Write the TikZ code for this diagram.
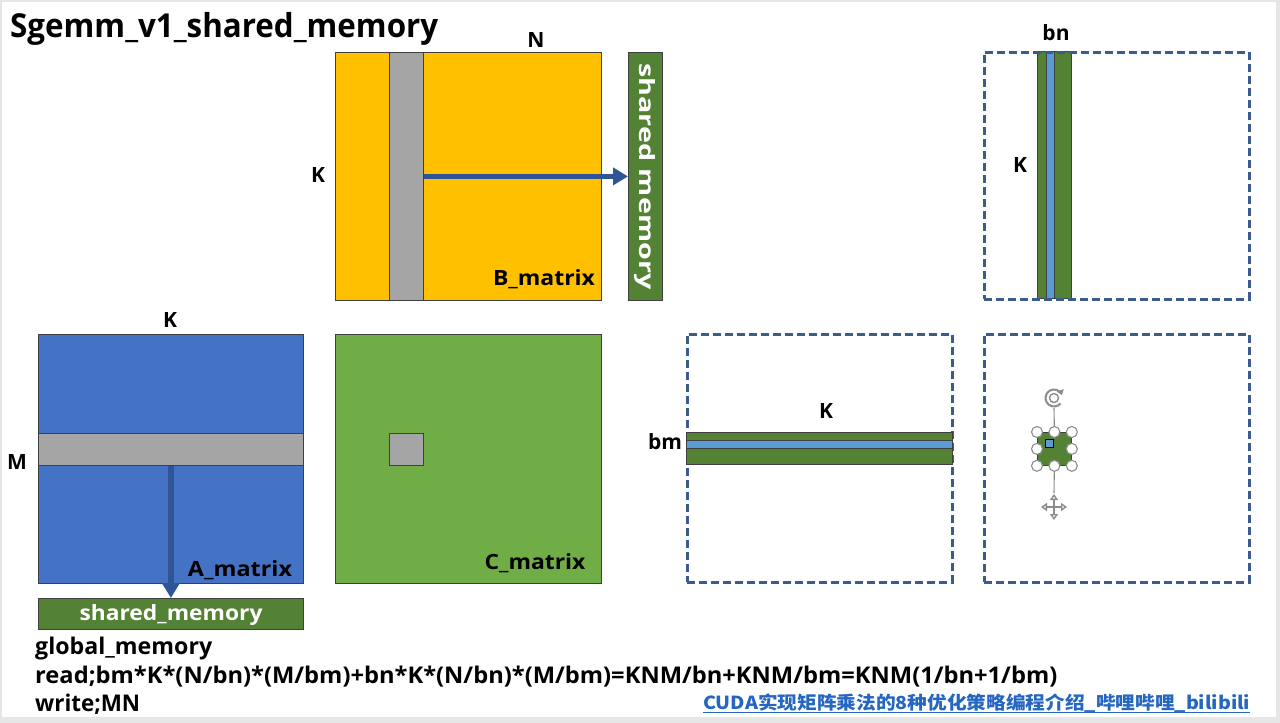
\documentclass[tikz,border=0pt]{standalone}
\usepackage{fontspec}
\usepackage{graphicx}
\setmainfont{Open Sans}
\newfontfamily\cjk{Noto Sans CJK SC}
\usetikzlibrary{arrows.meta}
\definecolor{gold}{HTML}{FFC000}
\definecolor{midgray}{HTML}{A5A5A5}
\definecolor{ablue}{HTML}{4472C4}
\definecolor{cgreen}{HTML}{70AD47}
\definecolor{dgreen}{HTML}{548235}
\definecolor{lblue}{HTML}{5B9BD5}
\definecolor{dashblue}{HTML}{3B5A8E}
\definecolor{arrblue}{HTML}{2F5597}
\definecolor{edge}{HTML}{404040}
\definecolor{framegray}{HTML}{E6E6E6}
\definecolor{linkblue}{HTML}{2466C2}
\definecolor{hgray}{HTML}{8C8C8C}
\tikzset{
  box/.style={draw=edge, line width=0.8, inner sep=0, anchor=north west},
  dbox/.style={draw=dashblue, line width=2.6, dash pattern=on 8 off 4, inner sep=0, anchor=north west},
  lbl/.style={font=\bfseries\fontsize{21}{24}\selectfont, inner sep=0},
  wlbl/.style={font=\bfseries\fontsize{21}{24}\selectfont, text=white, inner sep=0},
  txt/.style={font=\bfseries\fontsize{23}{26}\selectfont, inner sep=0, anchor=base west},
  arrowline/.style={draw=arrblue, line width=4.5, -{Triangle[length=15,width=17]}},
  handle/.style={circle, draw=hgray, fill=white, line width=1.1, minimum size=11, inner sep=0},
  hline/.style={draw=hgray, line width=1.1}
}
\begin{document}
\begin{tikzpicture}[x=1pt,y=-1pt]
\useasboundingbox (0,0) rectangle (1280,723);
\fill[framegray] (0,0) rectangle (1280,723);
\fill[white] (2,2) rectangle (1276,717);

% title
\node[font=\bfseries\fontsize{33}{36}\selectfont, inner sep=0, anchor=base west] (title) at (10,37) {\resizebox{428pt}{\height}{Sgemm\_v1\_shared\_memory}};

% B matrix
\node[box, fill=gold, minimum width=266, minimum height=248] (B) at (335,52) {};
\node[box, fill=midgray, minimum width=34, minimum height=248] (Bcol) at (389,52) {};
\node[box, fill=dgreen, minimum width=34, minimum height=248] (SMB) at (628,52) {};
\node[wlbl, rotate=-90] (SMBt) at (SMB.center) {\resizebox{226pt}{\height}{shared memory}};
\draw[arrowline] (Bcol.east) -- (SMB.west);
\node[lbl] (Nl) at (536,40) {N};
\node[lbl] (KBl) at (318,175) {K};
\node[lbl, anchor=base] (Bname) at (544,285) {\resizebox{102pt}{\height}{B\_matrix}};

% A matrix
\node[box, fill=ablue, minimum width=265, minimum height=249] (A) at (38,334) {};
\node[box, fill=midgray, minimum width=265, minimum height=32] (Arow) at (38,433) {};
\node[box, fill=dgreen, minimum width=265, minimum height=31] (SMA) at (38,598) {};
\draw[arrowline, line width=5.5] (Arow.south) -- (SMA.north);
\node[lbl] (KAl) at (170,320) {K};
\node[lbl] (Ml) at (17,462) {M};
\node[lbl, anchor=base] (Aname) at (240,576) {\resizebox{104pt}{\height}{A\_matrix}};
\node[wlbl, anchor=base] (SMAt) at (171,620) {\resizebox{183pt}{\height}{shared\_memory}};

% C matrix
\node[box, fill=cgreen, minimum width=266, minimum height=249] (C) at (335,334) {};
\node[box, fill=midgray, minimum width=34, minimum height=32] (Csq) at (389,433) {};
\node[lbl, anchor=base] (Cname) at (535,569) {\resizebox{101pt}{\height}{C\_matrix}};

% top-right dashed box (B tile)
\node[box, fill=dgreen, minimum width=34, minimum height=247] (Dcol) at (1037,51) {};
\node[box, fill=lblue, minimum width=8, minimum height=247] (Dcolb) at (1046,51) {};
\node[dbox, minimum width=265, minimum height=247] (D1) at (983,51) {};
\node[lbl] (bnl) at (1056,33) {bn};
\node[lbl] (KDl) at (1020,165) {K};

% middle dashed box (A tile)
\node[dbox, minimum width=265, minimum height=248] (D2) at (686,333) {};
\node[box, fill=dgreen, minimum width=266, minimum height=32] (Drow) at (686,432) {};
\node[box, fill=lblue, minimum width=266, minimum height=8] (Drowb) at (686,440) {};
\node[lbl] (KMl) at (826,411) {K};
\node[lbl] (bml) at (665,442) {bm};

% bottom-right dashed box (C tile with selection)
\node[dbox, minimum width=265, minimum height=248] (D3) at (983,333) {};
\node[box, fill=dgreen, minimum width=34, minimum height=33] (Dsel) at (1037,432) {};
\node[draw=black, line width=0.8, fill=lblue, minimum size=8, inner sep=0] (Dselb) at (1049,443) {};
\coordinate (rot) at (1054,398);
\coordinate (mv) at (1054,507);
\draw[hline] (Dsel.north) -- (1054,408);
\draw[hline] (Dsel.south) -- (1054,493);
\draw[hgray, line width=2, -{Triangle[length=5,width=7]}] ([shift={(40:8.5)}]rot) arc[start angle=40, end angle=340, radius=8.5];
\draw[hgray, line width=1.4] (rot) circle[radius=4.5];
\foreach \a in {0,90,180,270}
  \draw[hgray, line width=1.4, -{Triangle[open,length=6,width=8]}] (mv) -- ++(\a:13);
\node[handle] (h1) at (Dsel.north west) {};
\node[handle] (h2) at (Dsel.north) {};
\node[handle] (h3) at (Dsel.north east) {};
\node[handle] (h4) at (Dsel.west) {};
\node[handle] (h5) at (Dsel.east) {};
\node[handle] (h6) at (Dsel.south west) {};
\node[handle] (h7) at (Dsel.south) {};
\node[handle] (h8) at (Dsel.south east) {};

% bottom text
\node[txt] (g1) at (35,654) {\resizebox{177pt}{\height}{global\_memory}};
\node[txt] (g2) at (35,683) {\resizebox{1022pt}{\height}{read;bm*K*(N/bn)*(M/bm)+bn*K*(N/bn)*(M/bm)=KNM/bn+KNM/bm=KNM(1/bn+1/bm)}};
\node[txt] (g3) at (35,711) {\resizebox{105pt}{\height}{write;MN}};
\node[inner sep=0, anchor=base west, text=linkblue, font=\cjk\bfseries\fontsize{18}{20}\selectfont] (wm) at (703,709) {\resizebox{547pt}{\height}{CUDA实现矩阵乘法的8种优化策略编程介绍\_哔哩哔哩\_bilibili}};
\draw[linkblue, line width=1.2] ([yshift=-3.5pt]wm.base west) -- ([yshift=-3.5pt]wm.base east);
\end{tikzpicture}
\end{document}
